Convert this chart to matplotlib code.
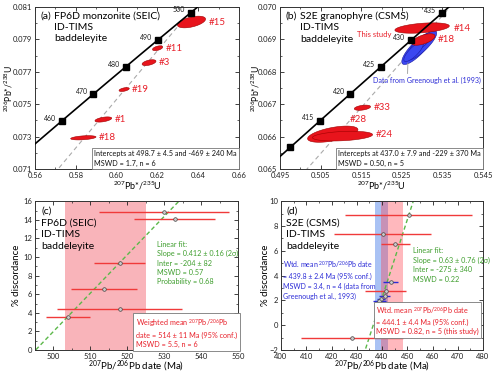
import numpy as np
import matplotlib
matplotlib.use('Agg')
import matplotlib.pyplot as plt
from matplotlib.patches import Polygon
from matplotlib.ticker import MultipleLocator, FixedLocator, FormatStrFormatter

plt.rcParams['font.family'] = ['Lato', 'DejaVu Sans']
plt.rcParams['mathtext.fontset'] = 'custom'
plt.rcParams['mathtext.rm'] = 'Lato'
plt.rcParams['mathtext.it'] = 'Lato:italic'
plt.rcParams['mathtext.bf'] = 'Lato:bold'

# decay constants (per Ma)
L238 = 1.55125e-4
L235 = 9.8485e-4

# ---- (a) FP6D monzonite, concordia data
a_names = ['#15', '#11', '#3', '#19', '#1', '#18']
a_x = [0.6367, 0.6201, 0.6159, 0.6037, 0.5935, 0.5837]
a_sx = [0.0069, 0.0025, 0.0034, 0.0025, 0.0041, 0.0062]
a_y = [0.08008, 0.07846, 0.07757, 0.07591, 0.07406, 0.07293]
a_sy = [0.00036, 0.00015, 0.00018, 0.00012, 0.00016, 0.00013]
a_rho = [0.5, 0.5, 0.5, 0.5, 0.5, 0.4]
a_ages = [460, 470, 480, 490, 500]
a_intercepts = [-469, 498.7]

# ---- (b) S2E granophyre, concordia data
b_names = ['#14', '#18', '#33', '#28', '#24']
b_x = [0.5300, 0.5303, 0.5153, 0.5080, 0.5104]
b_sx = [0.0067, 0.0029, 0.0020, 0.0062, 0.0074]
b_y = [0.069354, 0.06900, 0.066894, 0.066077, 0.066017]
b_sy = [0.00016, 0.000177, 0.00008, 0.00025, 0.00015]
b_rho = [0.4, 0.6, 0.4, 0.55, 0.3]
# Greenough et al. (1993)
g_x = [0.5288, 0.5299, 0.5295, 0.5279]
g_sx = [0.0038, 0.0037, 0.0025, 0.0024]
g_y = [0.068718, 0.06882, 0.06887, 0.06862]
g_sy = [0.00049, 0.00045, 0.00025, 0.0003]
g_rho = [0.82, 0.84, 0.78, 0.8]
b_ages = [410, 415, 420, 425, 430, 435]
b_intercepts = [-229, 437.0]

# ---- (c) FP6D discordance vs 207Pb/206Pb date
c_date = [530.0, 532.9, 517.9, 513.7, 517.9, 504.0]
c_err = [17.6, 11.0, 7.0, 9.0, 17.0, 6.0]
c_disc = [14.89, 14.04, 9.36, 6.54, 4.39, 3.54]
c_fit = (0.412, -204)
c_wm = (514, 11)

# ---- (d) S2E discordance vs 207Pb/206Pb date
d_date = [450.5, 440.2, 445.3, 441.5, 428.1]
d_err = [25.3, 19.2, 5.7, 8.2, 20.1]
d_disc = [8.9, 7.37, 6.57, 2.8, -1.06]
dg_date = [443.5, 441.0, 439.5, 439.0]
dg_err = [3.0, 2.0, 1.5, 2.5]
dg_disc = [3.45, 2.35, 2.1, 1.98]
d_fit = (0.63, -275)
d_wm = (444.1, 4.4)
dg_wm = (439.8, 2.4)

RED = '#e8141c'
RED_TXT = '#e8202a'
BLUE_TXT = '#2b2bd6'
GREEN = '#3f9e2e'


def style(ax):
    ax.tick_params(which='both', direction='in', top=True, right=True,
                   labelsize=5.5, colors='#222222', pad=2)
    ax.tick_params(which='major', length=3, width=0.6)
    ax.tick_params(which='minor', length=1.6, width=0.5)
    for s in ax.spines.values():
        s.set_linewidth(0.7)
        s.set_color('#333333')


def ellipse(ax, x, sx, y, sy, rho, fc, ec, z=2):
    t = np.linspace(0, 2 * np.pi, 120)
    px = x + sx * np.cos(t)
    py = y + sy * (rho * np.cos(t) + np.sqrt(1 - rho ** 2) * np.sin(t))
    ax.add_patch(Polygon(np.column_stack([px, py]), closed=True,
                         fc=fc, ec=ec, lw=0.4, zorder=z))


def concordia(ax, ages, label_ages):
    t = np.linspace(300, 600, 400)
    ax.plot(np.expm1(L235 * t), np.expm1(L238 * t), color='k', lw=1.2, zorder=4)
    ages = np.array(ages, dtype=float)
    xs, ys = np.expm1(L235 * ages), np.expm1(L238 * ages)
    ax.plot(xs, ys, 's', color='k', ms=4.3, zorder=5)
    for a, x, y in zip(ages, xs, ys):
        if int(a) in label_ages:
            ax.annotate(f'{int(a)}', (x, y), xytext=(-4, 2), textcoords='offset points',
                        ha='right', va='center', fontsize=5, color='#222222')


def discordia(ax, ints):
    t = np.array(ints, dtype=float)
    ax.plot(np.expm1(L235 * t), np.expm1(L238 * t), ls=(0, (4, 3)),
            color='#aaaaaa', lw=0.8, zorder=1)


def box_text(ax, x, y, s, color, size):
    ax.text(x, y, s, transform=ax.transAxes, fontsize=size, color=color,
            ha='right', va='bottom', multialignment='left', linespacing=1.4, zorder=6,
            bbox=dict(boxstyle='square,pad=0.35', fc='white', ec='#777777', lw=0.6))


fig = plt.figure(figsize=(5, 3.74), dpi=100)
axa = fig.add_axes([0.070, 0.548, 0.408, 0.433])
axb = fig.add_axes([0.560, 0.548, 0.406, 0.433])
axc = fig.add_axes([0.070, 0.064, 0.406, 0.398])
axd = fig.add_axes([0.562, 0.064, 0.404, 0.398])

# ---------------- (a)
ax = axa
discordia(ax, a_intercepts)
for i in range(len(a_names)):
    ellipse(ax, a_x[i], a_sx[i], a_y[i], a_sy[i], a_rho[i], RED, '#a00000')
    ax.annotate(a_names[i], (a_x[i] + a_sx[i], a_y[i]), xytext=(2, 0),
                textcoords='offset points', va='center', fontsize=7, color=RED_TXT)
concordia(ax, a_ages, a_ages)
ax.set_xlim(0.56, 0.66)
ax.set_ylim(0.071, 0.081)
ax.xaxis.set_major_locator(FixedLocator(np.arange(0.56, 0.661, 0.02)))
ax.xaxis.set_minor_locator(MultipleLocator(0.01))
ax.yaxis.set_major_locator(FixedLocator(np.arange(0.071, 0.0811, 0.002)))
ax.yaxis.set_minor_locator(MultipleLocator(0.001))
ax.xaxis.set_major_formatter(FormatStrFormatter('%.2f'))
ax.yaxis.set_major_formatter(FormatStrFormatter('%.3f'))
style(ax)
ax.set_xlabel(r'$^{207}$Pb*/$^{235}$U', fontsize=6.5)
ax.set_ylabel(r'$^{206}$Pb*/$^{238}$U', fontsize=6.2)
ax.xaxis.set_label_coords(0.5, -0.065)
ax.yaxis.set_label_coords(-0.1, 0.5)
ax.text(0.025, 0.975, '(a)', transform=ax.transAxes, fontsize=7.5, va='top')
ax.text(0.095, 0.975, 'FP6D monzonite (SEIC)\nID-TIMS\nbaddeleyite',
        transform=ax.transAxes, fontsize=7.5, va='top', linespacing=1.35)
box_text(ax, 0.99, 0.015, 'Intercepts at 498.7 ± 4.5 and -469 ± 240 Ma\nMSWD = 1.7, n = 6',
         '#111111', 5.2)

# ---------------- (b)
ax = axb
discordia(ax, b_intercepts)
for i in range(len(g_x)):
    ellipse(ax, g_x[i], g_sx[i], g_y[i], g_sy[i], g_rho[i], '#3a46f0', '#1a1aa0', z=2)
for i in range(len(b_names)):
    ellipse(ax, b_x[i], b_sx[i], b_y[i], b_sy[i], b_rho[i], RED, '#a00000', z=3)
b_lab_off = [(3, 0), (2, 0), (2, 0), (-6, 5), (2, 1)]
for i in range(len(b_names)):
    ox, oy = b_lab_off[i]
    xy = (b_x[i] + b_sx[i], b_y[i] + (b_sy[i] if oy > 3 else 0))
    ax.annotate(b_names[i], xy, xytext=(ox, oy), textcoords='offset points',
                va='center', fontsize=7, color=RED_TXT)
concordia(ax, b_ages, b_ages[1:])
ax.set_xlim(0.495, 0.545)
ax.set_ylim(0.065, 0.070)
ax.xaxis.set_major_locator(FixedLocator(np.arange(0.495, 0.5451, 0.01)))
ax.xaxis.set_minor_locator(MultipleLocator(0.005))
ax.yaxis.set_major_locator(FixedLocator(np.arange(0.065, 0.0701, 0.001)))
ax.yaxis.set_minor_locator(MultipleLocator(0.0005))
ax.xaxis.set_major_formatter(FormatStrFormatter('%.3f'))
ax.yaxis.set_major_formatter(FormatStrFormatter('%.3f'))
style(ax)
ax.set_xlabel(r'$^{207}$Pb*/$^{235}$U', fontsize=6.5)
ax.set_ylabel(r'$^{206}$Pb*/$^{238}$U', fontsize=6.2)
ax.xaxis.set_label_coords(0.5, -0.065)
ax.yaxis.set_label_coords(-0.09, 0.5)
ax.text(0.025, 0.975, '(b)', transform=ax.transAxes, fontsize=7.5, va='top')
ax.text(0.1, 0.975, 'S2E granophyre (CSMS)\nID-TIMS\nbaddeleyite',
        transform=ax.transAxes, fontsize=7.5, va='top', linespacing=1.35)
ax.text(0.55, 0.83, 'This study', transform=ax.transAxes, fontsize=5.5,
        color=RED_TXT, ha='right', va='center')
ax.annotate('Data from Greenough et al. (1993)', (0.5265, 0.06828),
            xytext=(0.458, 0.55), textcoords='axes fraction', fontsize=5.1,
            color=BLUE_TXT, ha='left', va='center',
            arrowprops=dict(arrowstyle='-', color='#999999', lw=0.6,
                            relpos=(0.32, 1.0), shrinkA=0, shrinkB=0))
box_text(ax, 0.99, 0.015, 'Intercepts at 437.0 ± 7.9 and -229 ± 370 Ma\nMSWD = 0.50, n = 5',
         '#111111', 5.2)

# ---------------- (c)
ax = axc
ax.axvspan(c_wm[0] - c_wm[1], c_wm[0] + c_wm[1], color='#f9b4ba', lw=0, zorder=0)
xx = np.array([490, 560])
ax.plot(xx, c_fit[0] * xx + c_fit[1], ls=(0, (3, 2)), color='#5cb84a', lw=1, zorder=1)
ax.errorbar(c_date, c_disc, xerr=c_err, fmt='o', ms=2.6, mfc='#cccccc', mec='#444444',
            mew=0.5, ecolor='#f03a3a', elinewidth=1, capsize=0, zorder=3)
ax.set_xlim(495, 550)
ax.set_ylim(0, 16)
ax.xaxis.set_major_locator(MultipleLocator(10))
ax.xaxis.set_minor_locator(MultipleLocator(5))
ax.yaxis.set_major_locator(MultipleLocator(2))
ax.yaxis.set_minor_locator(MultipleLocator(1))
style(ax)
ax.set_xlabel(r'$^{207}$Pb/$^{206}$Pb date (Ma)', fontsize=7)
ax.set_ylabel('% discordance', fontsize=7)
ax.xaxis.set_label_coords(0.5, -0.06)
ax.yaxis.set_label_coords(-0.07, 0.5)
ax.text(0.03, 0.965, '(c)\nFP6D (SEIC)\nID-TIMS\nbaddeleyite', transform=ax.transAxes,
        fontsize=7.5, va='top', linespacing=1.4)
ax.text(0.6, 0.735, 'Linear fit:\nSlope = 0.412 ± 0.16 (2σ)\nInter = -204 ± 82\nMSWD = 0.57\nProbability = 0.68',
        transform=ax.transAxes, fontsize=5.2, color=GREEN, va='top', linespacing=1.4)
box_text(ax, 0.995, 0.012, 'Weighted mean $^{207}$Pb/$^{206}$Pb\ndate = 514 ± 11 Ma (95% conf.)\nMSWD = 5.5, n = 6',
         RED_TXT, 5.2)

# ---------------- (d)
ax = axd
ax.axvspan(dg_wm[0] - dg_wm[1], dg_wm[0] + dg_wm[1], color='#a9c2f4', lw=0, zorder=0)
ax.axvspan(d_wm[0] - d_wm[1], d_wm[0] + d_wm[1], color='#ff3a4a', alpha=0.36, lw=0, zorder=0)
xx = np.array([420, 470])
ax.plot(xx, d_fit[0] * xx + d_fit[1], ls=(0, (3, 2)), color='#5cb84a', lw=1, zorder=1)
ax.errorbar(d_date, d_disc, xerr=d_err, fmt='o', ms=2.6, mfc='#cccccc', mec='#444444',
            mew=0.5, ecolor='#f03a3a', elinewidth=1, capsize=0, zorder=3)
ax.errorbar(dg_date, dg_disc, xerr=dg_err, fmt='o', ms=2.6, mfc='#cccccc', mec='#444444',
            mew=0.5, ecolor='#2b2bd6', elinewidth=1, capsize=0, zorder=3)
ax.set_xlim(400, 480)
ax.set_ylim(-2, 10)
ax.xaxis.set_major_locator(MultipleLocator(10))
ax.xaxis.set_minor_locator(MultipleLocator(5))
ax.yaxis.set_major_locator(MultipleLocator(2))
ax.yaxis.set_minor_locator(MultipleLocator(1))
style(ax)
ax.set_xlabel(r'$^{207}$Pb/$^{206}$Pb date (Ma)', fontsize=7)
ax.set_ylabel('% discordance', fontsize=7)
ax.xaxis.set_label_coords(0.5, -0.06)
ax.yaxis.set_label_coords(-0.055, 0.5)
ax.text(0.025, 0.965, '(d)\nS2E (CSMS)\nID-TIMS\nbaddeleyite', transform=ax.transAxes,
        fontsize=7.5, va='top', linespacing=1.4)
ax.text(0.012, 0.61, 'Wtd. mean $^{207}$Pb/$^{206}$Pb date\n= 439.8 ± 2.4 Ma (95% conf.)\nMSWD = 3.4, n = 4 (data from\nGreenough et al., 1993)',
        transform=ax.transAxes, fontsize=5.0, color=BLUE_TXT, va='top', linespacing=1.45)
ax.text(0.652, 0.69, 'Linear fit:\nSlope = 0.63 ± 0.76 (2σ)\nInter = -275 ± 340\nMSWD = 0.22',
        transform=ax.transAxes, fontsize=5.2, color=GREEN, va='top', linespacing=1.4)
box_text(ax, 0.98, 0.1, 'Wtd. mean $^{207}$Pb/$^{206}$Pb date\n= 444.1 ± 4.4 Ma (95% conf.)\nMSWD = 0.82, n = 5 (this study)',
         RED_TXT, 5.2)

fig.savefig('out.png', dpi=100)
